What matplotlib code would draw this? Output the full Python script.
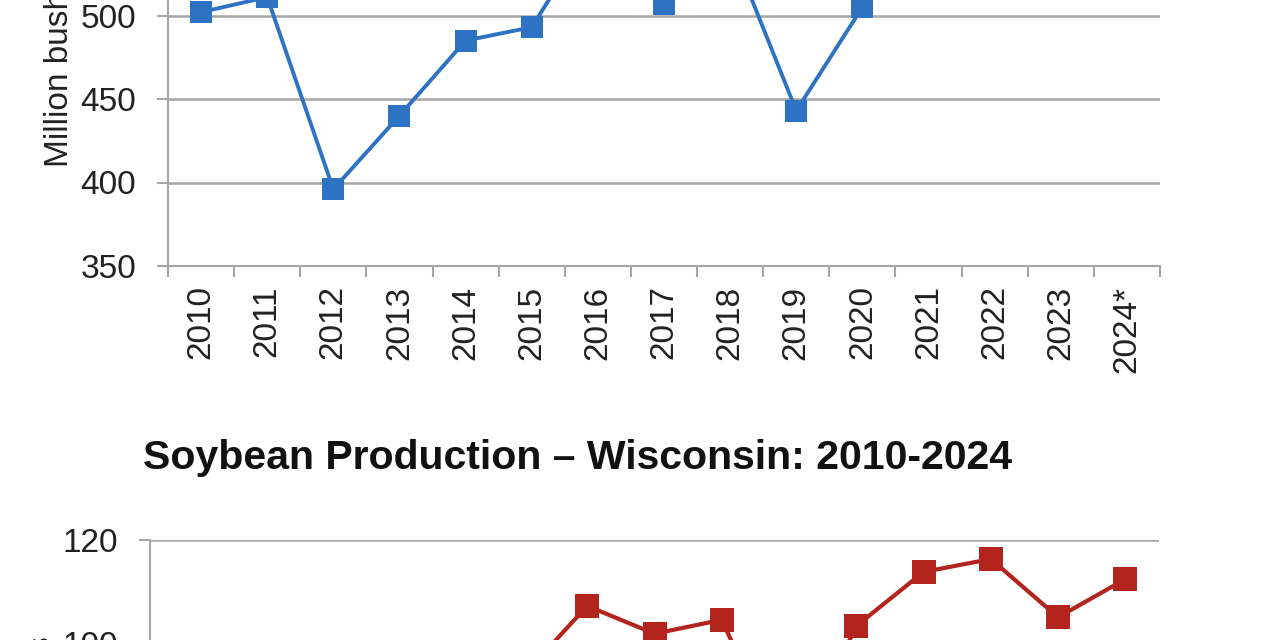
import matplotlib
matplotlib.use("Agg")
import matplotlib.pyplot as plt
import numpy as np

plt.rcParams['font.family'] = ['Liberation Sans', 'DejaVu Sans']

# dados (milhões de bushels)
anos = ['2010', '2011', '2012', '2013', '2014', '2015', '2016', '2017',
        '2018', '2019', '2020', '2021', '2022', '2023', '2024*']
milho = [502, 511, 396, 440, 485, 493, 556, 507, 542, 443, 505, 546, 548, 538, 542]
soja = [79.5, 69.5, 67.0, 71.0, 82.5, 93.0, 107.2, 101.8, 104.5, 76.0,
        103.3, 113.8, 116.3, 105.0, 112.4]

azul = '#2e72c3'
vermelho = '#b3241c'
cinza = '#a6a6a6'
texto = '#222222'

fig = plt.figure(figsize=(12.8, 6.4), dpi=100)


def estilo(ax, n):
    ax.set_xlim(-0.5, n - 0.5)
    for lado in ['top', 'right']:
        ax.spines[lado].set_visible(False)
    for lado in ['left', 'bottom']:
        ax.spines[lado].set_color(cinza)
        ax.spines[lado].set_linewidth(1.5)
    ax.yaxis.grid(True, color=cinza, linewidth=1.8)
    ax.set_axisbelow(True)
    ax.set_xticks(np.arange(n))
    ax.set_xticks(np.arange(n + 1) - 0.5, minor=True)
    ax.tick_params(axis='x', which='major', length=0, pad=14,
                   labelsize=24, labelcolor=texto, rotation=90)
    ax.tick_params(axis='x', which='minor', length=8, width=1.5, color=cinza)
    ax.tick_params(axis='y', length=8, width=1.5, color=cinza, pad=15,
                   labelsize=24, labelcolor=texto)


# grafico de cima (milho) - sai pelo topo da figura
ax1 = fig.add_axes([168 / 1280, (640 - 266) / 640, 992 / 1280, 417.5 / 640])
x = np.arange(len(anos))
ax1.plot(x, milho, '-s', color=azul, linewidth=2.8, markersize=16,
         markeredgewidth=0, clip_on=False)
ax1.set_ylim(350, 600)
ax1.set_yticks([350, 400, 450, 500, 550, 600])
estilo(ax1, len(anos))
ax1.set_xticklabels(anos)
ax1.set_ylabel('Million bushels', fontsize=24, color=texto, labelpad=4)

# grafico de baixo (soja) - sai pela base da figura
ax2 = fig.add_axes([150 / 1280, 0.15625 - 412 / 640, 1009 / 1280, 412 / 640])
ax2.plot(x, soja, '-s', color=vermelho, linewidth=3.0, markersize=17,
         markeredgewidth=0)
ax2.set_ylim(40, 120)
ax2.set_yticks([40, 60, 80, 100, 120])
estilo(ax2, len(anos))
ax2.set_xticklabels(anos)
ax2.set_ylabel('Million bushels', fontsize=24, color=texto, labelpad=4)

fig.text(143 / 1280, 1 - 458 / 640, 'Soybean Production \u2013 Wisconsin: 2010-2024',
         fontsize=29.5, fontweight='bold', color='#111111', ha='left', va='center')

fig.savefig('out.png', dpi=100)
